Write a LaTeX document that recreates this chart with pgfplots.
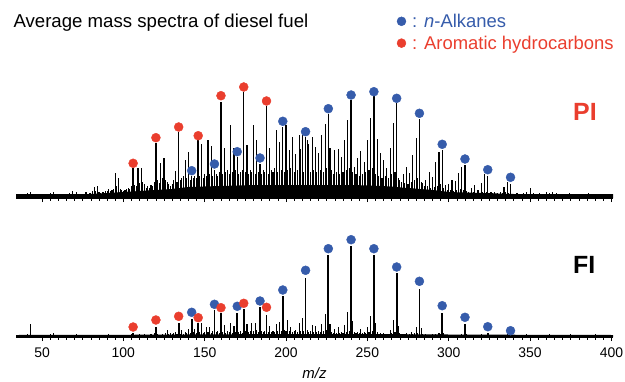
\documentclass[border=0pt]{standalone}
\usepackage{fontspec}
\setmainfont{Liberation Sans}
\usepackage{pgfplots}
\pgfplotsset{compat=1.18}
\definecolor{blueD}{RGB}{54,92,171}
\definecolor{redD}{RGB}{234,62,46}
\begin{document}
\begin{tikzpicture}[x=1bp,y=1bp]
\useasboundingbox (0,0) rectangle (625,381);
\pgfplotsset{spec/.style={scale only axis, width=597bp, xmin=34, xmax=401, ymin=0,
  axis x line*=bottom, hide y axis, xtick={50,100,...,400}, minor x tick num=9,
  tick align=outside, major tick length=4bp, minor tick length=2.5bp, clip=false,
  /pgf/number format/assume math mode=true,
  tick label style={font=\fontsize{14}{16}\selectfont},
  xticklabel style={yshift=-3bp},
  every tick/.style={black, line width=0.6bp}, axis line style={black, line width=0.6bp}}}
% ---------------- PI ----------------
\begin{axis}[spec, at={(16bp,183bp)}, anchor=south west, height=115bp, ymax=115, xticklabels={},
  legend style={at={(axis description cs:0.6375,1.62)}, anchor=north west, draw=none, fill=none,
    inner sep=0pt, font=\fontsize{18.5}{22}\selectfont, row sep=3bp, cells={anchor=west}},
  legend image code/.code={\fill[#1] (0bp,0bp) circle (4.5bp);}]
\addlegendimage{blueD}
\addlegendentry{\hspace{4bp}\textcolor{blueD}{: \textit{n}-Alkanes}}
\addlegendimage{redD}
\addlegendentry{\hspace{4bp}\textcolor{redD}{: Aromatic hydrocarbons}}
\addplot[fill=black, draw=none, forget plot] coordinates {(34,4)(80,4)(90,5)(100,6)(110,7)(120,8)(130,9)(140,11)(160,12)(180,13)(200,13)(220,13)(240,13)(260,12)(275,10)(290,8)(300,6)(320,5)(340,4)(401,4)} \closedcycle;
\addplot[ycomb, black, line width=1.1bp, forget plot] coordinates {
(35,4)(36,3)(37,4)(38,3)(39,4)(40,4)(41,5)(42,4)(43,6)(44,3)(45,4)(46,3)(47,4)(48,3)(49,4)(50,4)(51,3)(52,4)(53,4)(54,3)(55,5)(56,4)(57,6)(58,3)(59,4)(60,3)(61,4)(62,3)(63,4)(64,3)(65,4)(66,4)(67,5)(68,4)(69,7)(70,4)(71,6)(72,3)(73,4)(74,3)(75,4)(76,4)(77,6)(78,4)(79,5)
(80,5)(81,7)(82,11)(83,7)(84,12)(85,6)(86,5)(87,6)(88,6)(89,7)(90,7)(91,9)(92,7)(93,8)(94,9)(95,25)(96,12)(97,20)(98,9)(99,8)(100,7)
(101,8)(102,9)(103,10)(104,9)(105,12)(107,13)(108,12)(109,30)(110,15)(111,30)(112,16)(113,14)(114,10)(115,12)(116,10)(117,13)(118,12)(119,16)(121,18)(122,15)(123,35)(124,20)(125,40)(126,18)(127,16)(128,14)(129,12)(130,14)
(131,18)(132,27)(133,16)(135,18)(136,20)(137,22)(138,38)(139,20)(140,46)(141,18)(143,20)(144,22)(145,20)(147,22)(148,54)(149,20)(150,24)
(151,22)(152,58)(153,24)(154,52)(155,22)(157,24)(158,22)(159,26)(161,24)(162,50)(163,26)(164,28)(165,24)(166,73)(167,26)(168,50)(169,28)
(171,24)(172,26)(173,28)(175,26)(176,53)(177,24)(178,28)(179,26)(180,73)(181,24)(182,58)(183,26)(185,24)(186,28)(187,26)(189,24)(190,50)
(191,28)(192,26)(193,30)(194,68)(195,26)(196,56)(197,28)(199,26)(200,73)(201,28)(202,48)(203,30)(204,61)(205,26)(206,44)(207,28)(208,63)(209,49)(210,63)
(211,26)(213,58)(214,54)(215,26)(216,61)(217,28)(218,51)(219,26)(220,45)(221,28)(222,63)(223,26)(224,74)(225,30)(227,50)(228,28)(229,24)(230,48)
(231,26)(232,49)(233,24)(234,41)(235,26)(236,58)(237,28)(238,78)(239,30)(241,26)(242,31)(243,24)(244,40)(245,22)(246,47)(247,24)(248,36)(249,26)(250,58)
(251,28)(252,80)(253,30)(255,24)(256,59)(257,22)(258,45)(259,20)(260,38)(261,22)(262,30)(263,20)(264,50)(265,24)(266,75)(267,26)(269,20)(270,18)
(271,16)(272,24)(273,15)(274,31)(275,14)(276,25)(277,16)(278,43)(279,18)(280,60)(281,20)(283,16)(284,15)(285,12)(286,18)(287,12)(288,26)(289,10)(290,21)
(291,11)(292,36)(293,12)(294,46)(295,14)(297,10)(298,13)(299,8)(300,14)(301,8)(302,18)(303,7)(304,17)(305,8)(306,25)(307,9)(308,31)(309,8)
(311,7)(312,6)(313,5)(314,10)(315,6)(316,13)(317,5)(318,8)(319,5)(320,15)(321,6)(322,24)(323,6)(325,5)(326,6)(327,5)(328,6)(329,4)(330,5)
(331,4)(332,6)(333,5)(334,11)(335,6)(336,16)(337,5)(339,4)(340,4)(341,4)(342,5)(343,4)(344,4)(345,3)(346,5)(347,4)(348,6)(349,4)(350,10)
(351,4)(352,5)(353,4)(354,4)(355,3)(356,5)(357,4)(358,4)(359,3)(360,6)(361,4)(362,5)(363,4)(364,6)(365,3)(366,5)(367,4)(368,4)(369,3)(370,4)
(371,3)(372,4)(373,3)(374,5)(375,3)(376,4)(377,3)(378,4)(379,3)(380,4)(381,3)(382,4)(383,3)(384,4)(385,3)(386,5)(387,3)(388,4)(389,3)(390,4)
(391,3)(392,4)(393,3)(394,4)(395,3)(396,4)(397,3)(398,4)(399,3)(400,4)};
\addplot[ycomb, black, line width=1.4bp, forget plot] coordinates {
(106,29.7)(120,55.3)(134,65.7)(146,57.5)(160,96.3)(174,105.7)(188,91.5)
(142,21.8)(156,28.5)(170,40.8)(184,34.5)(198,71.2)(212,60.8)(226,84)(240,97.8)(254,101.5)(268,94.5)(282,79)(296,48)(310,33)(324,22)(338,14.5)};
\addplot[only marks, mark=*, mark size=4.5bp, blueD, forget plot] coordinates {
(142,27.3)(156,34)(170,46.3)(184,40)(198,76.7)(212,66.3)(226,89.3)(240,103)(254,106.3)(268,99.7)(282,84.7)(296,53.7)(310,39)(324,28.3)(338,20.7)};
\addplot[only marks, mark=*, mark size=4.5bp, redD, forget plot] coordinates {
(106,34.7)(120,60.3)(134,71)(146,62.3)(160,102.3)(174,111)(188,97)};
\end{axis}
% ---------------- FI ----------------
\begin{axis}[spec, at={(16bp,44bp)}, anchor=south west, height=110bp, ymax=110]
\addplot[fill=black, draw=none] coordinates {(34,2)(100,2.2)(150,2.6)(200,3)(250,3)(300,2.5)(350,2.2)(401,2)} \closedcycle;
\addplot[ycomb, black, line width=1.1bp] coordinates {
(41,3)(43,13)(55,3)(57,4)(71,3)(85,2.5)(91,3)(105,3)(110,3)(113,3)(117,3)(119,4)(121,3)(124,3)(126,4)(127,7)(128,3)(129,4)(130,3)(131,4)(132,5)(133,3)(135,3)(136,7)(137,3)(138,5)(139,4)(140,8)(141,4)(143,5)(144,8)(145,4)(147,5)(148,14)(149,4)(150,5)(151,10)(152,5)(153,10)(154,4)(155,6)(157,5)(158,6)(159,4)(161,5)(162,12)(163,4)(164,6)(165,5)(166,14)(167,4)(168,11)(169,5)(171,5)(172,6)(173,4)(175,6)(176,13)(177,5)(178,6)(179,14)(180,6)(181,14)(182,7)(183,5)(185,6)(186,5)(187,6)(189,5)(190,11)(191,5)(192,6)(193,5)(194,13)(195,6)(196,15)(197,6)(199,7)(200,6)(201,17)(202,6)(203,10)(204,5)(205,6)(206,7)(207,5)(208,14)(209,6)(210,19)(211,6)(213,7)(214,5)(215,6)(216,12)(217,5)(218,11)(219,5)(220,6)(221,5)(222,13)(223,6)(224,23)(225,7)(227,13)(228,5)(229,4)(230,8)(231,4)(232,10)(233,4)(234,5)(235,4)(236,12)(237,5)(238,25)(239,6)(241,16)(242,5)(243,4)(244,5)(245,4)(246,8)(247,4)(248,5)(249,4)(250,10)(251,5)(252,21)(253,6)(255,14)(256,5)(257,3)(258,4)(259,3)(260,4)(261,3)(262,3)(263,3)(264,7)(265,4)(266,17)(267,5)(269,11)(270,4)(271,3)(272,3)(274,4)(276,3)(277,5)(278,3)(279,4)(280,10)(281,4)(283,9)(284,3)(286,3)(290,3)(292,3)(294,4)(295,3)(297,4)(308,3)(311,3)(320,3)(336,3)(348,3)(362,3)(375,3)(390,3)};
\addplot[ycomb, black, line width=1.8bp] coordinates {
(106,3.7)(120,10.3)(134,14.3)(142,17.7)(146,14.3)(156,27)(160,23.7)(170,24.3)(174,27.7)(184,29.7)(188,22)(198,41)(212,59.3)(226,82)(240,91)(254,82)(268,63.7)(282,47.7)(296,24.3)(310,13)(324,4.3)(338,1)};
\addplot[only marks, mark=*, mark size=4.5bp, blueD] coordinates {
(142,24.7)(156,32.7)(170,30.7)(184,36)(198,47)(212,66.7)(226,88.3)(240,97.3)(254,88.3)(268,70)(282,55.7)(296,31.3)(310,19.7)(324,10.3)(338,6.3)};
\addplot[only marks, mark=*, mark size=4.5bp, redD] coordinates {
(106,10)(120,17)(134,20.7)(146,19.3)(160,29.3)(174,33.7)(188,29.7)};
\end{axis}
\node[anchor=base west, font=\fontsize{18.7}{22}\selectfont] at (10,354) {Average mass spectra of diesel fuel};
\node[anchor=base west, font=\fontsize{25}{28}\selectfont\bfseries, text=redD, inner sep=0pt] at (573,261) {PI};
\node[anchor=base west, font=\fontsize{25}{28}\selectfont\bfseries, inner sep=0pt] at (573,108) {FI};
\node[font=\fontsize{15}{17}\selectfont\itshape] at (314.5,8) {m/z};
\end{tikzpicture}
\end{document}
